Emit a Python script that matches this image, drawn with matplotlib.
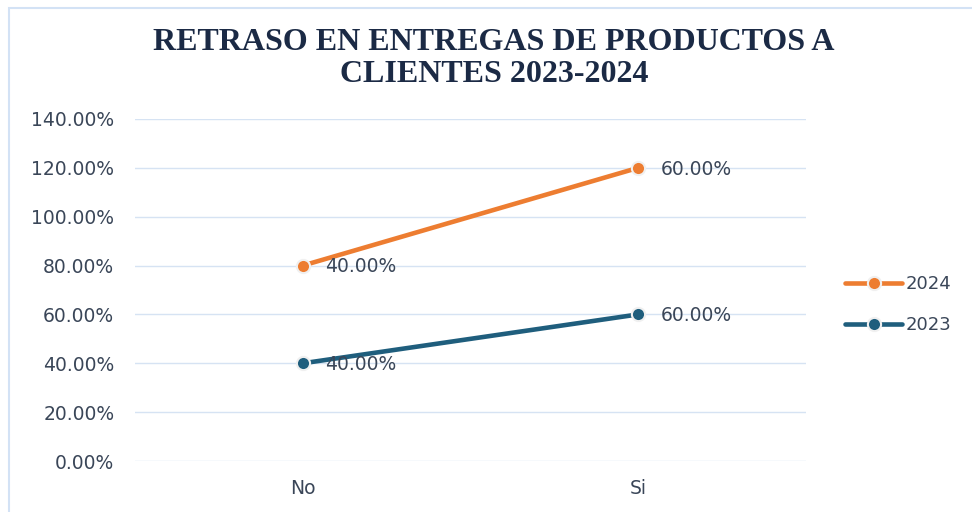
import matplotlib.pyplot as plt
from matplotlib.ticker import FuncFormatter
from matplotlib.patches import Rectangle

categories = ["No", "Si"]
values_2023 = [0.40, 0.60]
values_2024 = [0.40, 0.60]
series_names = ["2024", "2023"]
title = "RETRASO EN ENTREGAS DE PRODUCTOS A\nCLIENTES 2023-2024"

# stacked line chart: 2024 is drawn on top of 2023
stack_2024 = [a + b for a, b in zip(values_2023, values_2024)]

orange = "#ED7D31"
navy = "#1F5E7D"
text_col = "#3A4658"
grid_col = "#D6E3F3"
sans = "DejaVu Sans"

fig = plt.figure(figsize=(9.72, 5.12), dpi=100)
fig.patches.append(Rectangle((0.009, -0.05), 1.1, 1.034, transform=fig.transFigure,
                             fill=False, edgecolor="#D3E2F5", linewidth=1.5))
ax = fig.add_axes([0.139, 0.0996, 0.69, 0.668])

x = list(range(len(categories)))
for vals, raw, col, name in [(stack_2024, values_2024, orange, "2024"),
                             (values_2023, values_2023, navy, "2023")]:
    ax.plot(x, vals, color=col, lw=3.3, marker="o", ms=9.5, mfc=col,
            mec="#F0F0F0", mew=1.5, label=name, solid_capstyle="round", zorder=3)
    for xi, v, r in zip(x, vals, raw):
        ax.annotate(f"{r*100:.2f}%", (xi, v), xytext=(16, -1), textcoords="offset points",
                    va="center", ha="left", fontsize=13.5, color=text_col,
                    family=sans, zorder=4)

ax.set_xlim(-0.5, 1.5)
ax.set_ylim(0, 1.4)
ax.set_yticks([i * 0.2 for i in range(8)])
ax.yaxis.set_major_formatter(FuncFormatter(lambda v, p: f"{v*100:.2f}%"))
ax.set_xticks(x)
ax.set_xticklabels(categories)
ax.grid(axis="y", color=grid_col, lw=1)
ax.set_axisbelow(True)
for s in ax.spines.values():
    s.set_visible(False)
ax.tick_params(axis="both", length=0, colors=text_col, labelsize=13.5)
ax.tick_params(axis="y", pad=15)
ax.tick_params(axis="x", pad=13)
for lab in ax.get_xticklabels() + ax.get_yticklabels():
    lab.set_family(sans)

fig.text(0.508, 0.886, title, ha="center", va="center", fontsize=23, fontweight="bold",
         family="Liberation Serif", color="#1B2A45", linespacing=1.16)

leg = fig.legend(loc="center left", bbox_to_anchor=(0.869, 0.405), frameon=False,
                 handlelength=3.2, handletextpad=0.15, labelspacing=1.25,
                 borderpad=0, borderaxespad=0, prop={"family": sans, "size": 13})
for t in leg.get_texts():
    t.set_color(text_col)

fig.savefig("out.png", dpi=100)
